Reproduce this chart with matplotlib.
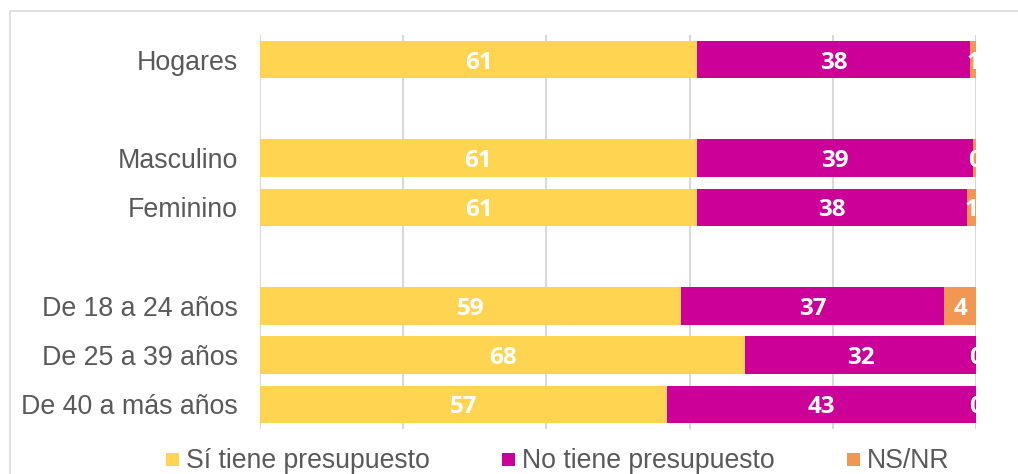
import matplotlib
matplotlib.use("Agg")
import matplotlib.pyplot as plt
from matplotlib.patches import Rectangle

# ---- data ----
categories = ["Hogares", "", "Masculino", "Feminino", "",
              "De 18 a 24 años", "De 25 a 39 años", "De 40 a más años"]
si_tiene = [61.1, None, 61.0, 61.1, None, 58.8, 67.8, 56.9]
no_tiene = [38.1, None, 38.6, 37.6, None, 36.8, 32.2, 43.1]
ns_nr = [0.8, None, 0.4, 1.3, None, 4.4, 0.0, 0.0]
series_names = ["Sí tiene presupuesto", "No tiene presupuesto", "NS/NR"]
colors = ["#FFD450", "#CC0099", "#F29654"]

W, H = 1018, 474
fig = plt.figure(figsize=(W / 100, H / 100), dpi=100)
ax = fig.add_axes([260 / W, (H - 429) / H, (976 - 260) / W, (429 - 35) / H])

label_font = dict(family="Open Sans", weight="bold", size=17.5, color="white")
series = [si_tiene, no_tiene, ns_nr]
for i, cat in enumerate(categories):
    if series[0][i] is None:
        continue
    left = 0.0
    for s, col in zip(series, colors):
        v = s[i]
        ax.barh(i, v, left=left, height=0.765, color=col, edgecolor="none", zorder=2)
        ax.text(left + v / 2, i, f"{v:.0f}", ha="center", va="center_baseline",
                clip_on=True, zorder=3, **label_font)
        left += v

ax.set_xlim(0, 100)
ax.set_ylim(7.5, -0.5)
ax.set_xticks([0, 20, 40, 60, 80, 100])
ax.set_xticklabels([])
ax.tick_params(axis="x", length=0)
ax.grid(axis="x", color="#D9D9D9", linewidth=1.5, zorder=0)
ax.set_yticks(range(len(categories)))
ax.set_yticklabels(categories, fontsize=19.3, color="#595959", family="Liberation Sans")
ax.tick_params(axis="y", length=0, pad=16)
for sp in ax.spines.values():
    sp.set_visible(False)

# outer chart border (partially cropped)
fig.patches.append(Rectangle((10 / W, -0.1), 1.2, (H - 11) / H + 0.1,
                             transform=fig.transFigure, fill=False,
                             edgecolor="#D9D9D9", linewidth=1.2))

# legend (manual, Excel style)
leg_x = [166, 502, 847]
for x, name, col in zip(leg_x, series_names, colors):
    fig.patches.append(Rectangle((x / W, (H - 466) / H), 13 / W, 13 / H,
                                 transform=fig.transFigure, facecolor=col,
                                 edgecolor="none"))
    fig.text((x + 20) / W, (H - 468) / H, name, fontsize=19.2, color="#595959",
             family="Liberation Sans", va="baseline", ha="left")

fig.savefig("out.png", dpi=100)
